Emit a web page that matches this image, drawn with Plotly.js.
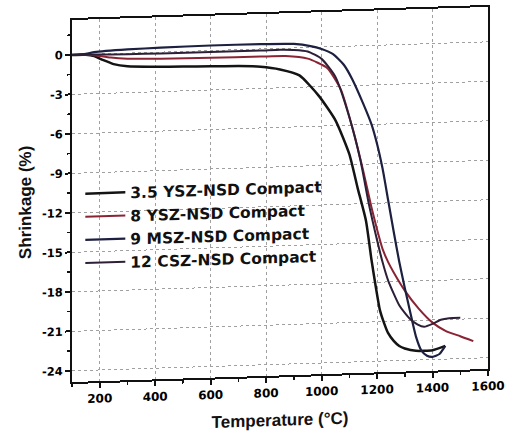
<!DOCTYPE html>
<html>
<head>
<meta charset="utf-8">
<script src="https://cdn.plot.ly/plotly-3.0.1.min.js"></script>
<style>
  html, body { margin: 0; padding: 0; background: #ffffff; overflow: hidden; }
  #chart { width: 509px; height: 441px; transform: skewY(-1.8deg); transform-origin: 72px 0; }
</style>
</head>
<body>
<div id="chart"></div>
<script>
// ---- data ----
const seriesNames = ["3.5 YSZ-NSD Compact", "8 YSZ-NSD Compact", "9 MSZ-NSD Compact", "12 CSZ-NSD Compact"];

const temp35 = [100,150,180,210,250,300,400,500,600,700,780,850,920,990,1050,1100,1130,1160,1180,1195,1210,1225,1240,1260,1280,1300,1340,1400,1446];
const shr35  = [0,-0.02,-0.15,-0.45,-0.8,-1.0,-1.1,-1.15,-1.2,-1.25,-1.35,-1.6,-2.1,-3.7,-5.6,-8.2,-10.8,-13.3,-16.3,-18.3,-20.1,-21.1,-21.9,-22.5,-22.9,-23.1,-23.3,-23.3,-23.0];

const temp8 = [100,150,180,240,300,420,600,780,870,950,1020,1070,1115,1150,1180,1200,1220,1240,1260,1300,1350,1400,1450,1500,1547];
const shr8  = [0,-0.02,-0.08,-0.3,-0.42,-0.5,-0.55,-0.58,-0.6,-0.85,-1.6,-3.3,-6.5,-9.5,-12.3,-14.0,-15.5,-16.5,-17.3,-18.7,-20.1,-21.2,-21.9,-22.3,-22.7];

const temp9 = [100,150,180,300,420,600,780,900,960,1000,1040,1080,1110,1150,1180,1200,1220,1240,1260,1280,1300,1320,1340,1360,1380,1400,1425,1446];
const shr9  = [0,0.05,0.15,0.28,0.34,0.38,0.37,0.3,0.1,-0.15,-0.55,-1.4,-2.5,-4.4,-6.0,-7.5,-9.4,-11.8,-14.2,-16.5,-18.5,-20.4,-22.2,-23.3,-23.7,-23.8,-23.6,-23.0];

const temp12 = [100,150,180,300,420,600,780,850,900,950,1000,1050,1100,1140,1170,1200,1220,1240,1260,1280,1300,1320,1345,1370,1400,1430,1460,1500];
const shr12  = [0,-0.01,-0.03,-0.08,-0.1,-0.12,-0.12,-0.1,-0.15,-0.3,-0.9,-2.3,-5.4,-8.7,-12.0,-14.8,-16.5,-17.9,-18.9,-19.8,-20.4,-20.9,-21.3,-21.5,-21.3,-21.0,-20.9,-20.9];

const xTickVals = [200,400,600,800,1000,1200,1400,1600];
const xTickText = ["200","400","600","800","1000","1200","1400","1600"];
const yTickVals = [0,-3,-6,-9,-12,-15,-18,-21,-24];
const yTickText = ["0","-3","-6","-9","-12","-15","-18","-21","-24"];

const colors = ["#141414", "#8a2434", "#1d2040", "#2c1f36"];
const widths = [2.5, 2, 2.2, 2];

const xs = [temp35, temp8, temp9, temp12];
const ys = [shr35, shr8, shr9, shr12];

const bold = s => "<b>" + s + "</b>";

const traces = seriesNames.map((n, i) => ({
  x: xs[i], y: ys[i], name: n, type: "scatter", mode: "lines",
  line: { color: colors[i], width: widths[i], shape: "spline", smoothing: 0.55 }
}));

const tickFont = { family: "DejaVu Sans, sans-serif", size: 11.5, color: "#000" };
const titleFont = { family: "Liberation Sans, Arial, sans-serif", size: 17, color: "#111" };

const layout = {
  width: 509, height: 441,
  margin: { l: 72, r: 21, t: 20, b: 59 },
  paper_bgcolor: "#ffffff", plot_bgcolor: "#ffffff",
  showlegend: true,
  legend: {
    x: 0.02, y: 0.565, xanchor: "left", yanchor: "top",
    bgcolor: "rgba(0,0,0,0)", borderwidth: 0,
    font: { family: "DejaVu Sans, sans-serif", size: 15.5, color: "#111", weight: 700 },
    itemwidth: 40, tracegroupgap: 0
  },
  xaxis: {
    range: [100, 1600],
    tickvals: xTickVals, ticktext: xTickText.map(bold),
    tickfont: { ...tickFont, size: 12 },
    ticks: "outside", ticklen: 5, tickwidth: 2, tickcolor: "#111",
    minor: { dtick: 100, ticks: "outside", ticklen: 3, tickwidth: 1.5, tickcolor: "#111", showgrid: false },
    showline: true, linewidth: 2, linecolor: "#111", mirror: true,
    showgrid: true, gridcolor: "#a0a0a0", gridwidth: 1, griddash: "dot",
    zeroline: false,
    title: { text: bold("Temperature (°C)"), font: titleFont, standoff: 15 }
  },
  yaxis: {
    range: [-24.85, 2.65],
    tickvals: yTickVals, ticktext: yTickText.map(bold),
    tickfont: tickFont,
    ticks: "outside", ticklen: 5, tickwidth: 2, tickcolor: "#111",
    minor: { dtick: 1.5, ticks: "outside", ticklen: 3, tickwidth: 1.5, tickcolor: "#111", showgrid: false },
    showline: true, linewidth: 2, linecolor: "#111", mirror: true,
    showgrid: true, gridcolor: "#a0a0a0", gridwidth: 1, griddash: "dot",
    zeroline: false,
    title: { text: bold("Shrinkage (%)"), font: titleFont, standoff: 6 }
  }
};

Plotly.newPlot("chart", traces, layout, { displayModeBar: false, staticPlot: true });
</script>
</body>
</html>
